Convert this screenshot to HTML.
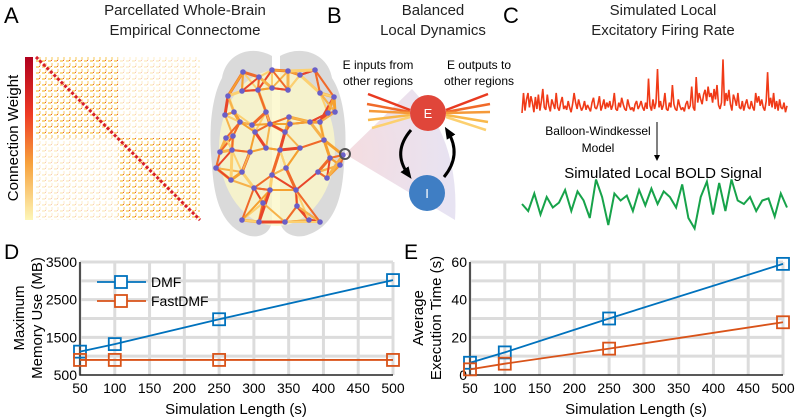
<!DOCTYPE html>
<html><head><meta charset="utf-8"><style>
html,body{margin:0;padding:0;background:#fff}
svg{display:block;font-family:"Liberation Sans",Arial,sans-serif}
</style></head><body>
<svg id="fig" width="800" height="419" viewBox="0 0 800 419" xmlns="http://www.w3.org/2000/svg">
<defs>
<linearGradient id="cb" x1="0" y1="0" x2="0" y2="1"><stop offset="0" stop-color="#b0001e"/><stop offset="0.35" stop-color="#ee3a24"/><stop offset="0.65" stop-color="#f7a13c"/><stop offset="1" stop-color="#fdf6b8"/></linearGradient>
<pattern id="mx" width="6" height="6" patternUnits="userSpaceOnUse"><rect width="6" height="6" fill="#fff"/><rect x="0" y="0" width="3" height="2" fill="#f9d77a"/><rect x="3" y="3" width="2" height="3" fill="#fbe0a0"/><rect x="3" y="0" width="1" height="1" fill="#e8452a"/></pattern>
<radialGradient id="cone" cx="0" cy="0.5" r="1"><stop offset="0" stop-color="#f3d6da"/><stop offset="1" stop-color="#e3def0"/></radialGradient>
<marker id="ah" markerUnits="userSpaceOnUse" markerWidth="12" markerHeight="12" refX="6" refY="6" orient="auto"><path d="M0,1 L12,6 L0,11z" fill="#000"/></marker>
<marker id="ahs" markerUnits="userSpaceOnUse" markerWidth="6" markerHeight="6" refX="3" refY="3" orient="auto"><path d="M0,0 L6,3 L0,6z" fill="#000"/></marker>
</defs>

<g>
<text x="4" y="23" font-size="22">A</text>
<text x="185" y="15" font-size="15" text-anchor="middle" fill="#222"><tspan x="185">Parcellated Whole-Brain</tspan><tspan x="185" dy="20">Empirical Connectome</tspan></text>
<rect x="25" y="57" width="8" height="163" fill="url(#cb)"/>
<text transform="translate(18,138) rotate(-90)" font-size="15" text-anchor="middle">Connection Weight</text>
<g id="matrix">
<rect x="36" y="57" width="164" height="163" fill="#fff"/>
<rect x="36" y="57" width="82" height="81" fill="url(#mx)" opacity="0.9"/>
<rect x="118" y="138" width="82" height="82" fill="url(#mx)" opacity="0.9"/>
<rect x="36" y="138" width="82" height="82" fill="url(#mx)" opacity="0.3"/>
<rect x="118" y="57" width="82" height="81" fill="url(#mx)" opacity="0.3"/>
<line x1="36" y1="57" x2="200" y2="220" stroke="#d8202a" stroke-width="3" stroke-dasharray="3 2"/>
</g>
<g id="brain">
<path d="M272,56 C250,44 226,54 222,78 C212,96 208,130 212,165 C214,200 222,228 250,236 C262,238 270,232 272,222 Z" fill="#dadada"/>
<path d="M280,56 C302,44 328,54 332,78 C344,96 348,130 344,165 C342,200 334,228 304,236 C292,238 282,232 280,222 Z" fill="#dadada"/>
<ellipse cx="277" cy="148" rx="58" ry="78" fill="#fbf8c8" opacity="0.8"/>
</g>
</g>

<g>
<text x="327" y="23" font-size="22">B</text>
<text x="433" y="15" font-size="15" text-anchor="middle" fill="#222"><tspan x="433">Balanced</tspan><tspan x="433" dy="20">Local Dynamics</tspan></text>
<text x="378" y="69" font-size="12" text-anchor="middle"><tspan x="378">E inputs from</tspan><tspan x="378" dy="16">other regions</tspan></text>
<text x="479" y="69" font-size="12" text-anchor="middle"><tspan x="479">E outputs to</tspan><tspan x="479" dy="16">other regions</tspan></text>
<path d="M345,154 L412,89 Q460,140 455,220 Z" fill="url(#cone)" opacity="0.85"/>
<circle cx="345" cy="154" r="5" fill="none" stroke="#555" stroke-width="2"/>
<g stroke-width="2.5" fill="none">
<line x1="368" y1="94" x2="410" y2="110" stroke="#e83a20"/>
<line x1="367" y1="104" x2="410" y2="112" stroke="#f06a2a"/>
<line x1="369" y1="111" x2="410" y2="113" stroke="#f59a3a"/>
<line x1="368" y1="120" x2="410" y2="115" stroke="#f8b84a"/>
<line x1="372" y1="128" x2="410" y2="117" stroke="#fcd070"/>
</g>
<g stroke-width="2.5" fill="none">
<line x1="446" y1="110" x2="488" y2="94" stroke="#e83a20"/>
<line x1="446" y1="112" x2="490" y2="104" stroke="#f06a2a"/>
<line x1="446" y1="113" x2="490" y2="112" stroke="#f59a3a"/>
<line x1="446" y1="115" x2="488" y2="122" stroke="#f8b84a"/>
<line x1="446" y1="117" x2="486" y2="130" stroke="#fcd070"/>
</g>
<circle cx="428" cy="113" r="18" fill="#e0463a"/>
<text x="428" y="118" font-size="13" fill="#fff" text-anchor="middle">E</text>
<circle cx="427" cy="193" r="18" fill="#3f7ec4"/>
<text x="427" y="198" font-size="13" fill="#fff" text-anchor="middle">I</text>
<path d="M411,130 Q392,152 408,174" fill="none" stroke="#000" stroke-width="3" marker-end="url(#ah)"/>
<path d="M444,177 Q462,155 448,132" fill="none" stroke="#000" stroke-width="3" marker-end="url(#ah)"/>
</g>

<g>
<text x="503" y="23" font-size="22">C</text>
<text x="663" y="15" font-size="15" text-anchor="middle" fill="#222"><tspan x="663">Simulated Local</tspan><tspan x="663" dy="20">Excitatory Firing Rate</tspan></text>
<polyline id="firing" fill="none" stroke="#f03a17" stroke-width="1.6" stroke-linejoin="bevel"/>
<text x="598" y="135" font-size="12" text-anchor="middle"><tspan x="598">Balloon-Windkessel</tspan><tspan x="598" dy="17">Model</tspan></text>
<line x1="657" y1="122" x2="657" y2="158" stroke="#000" stroke-width="1" marker-end="url(#ahs)"/>
<text x="663" y="178" font-size="15" text-anchor="middle">Simulated Local BOLD Signal</text>
<polyline id="bold" fill="none" stroke="#17a34a" stroke-width="2"/>
</g>

<g id="chartD">
<text x="4" y="259" font-size="21">D</text>
<text transform="translate(24,318) rotate(-90)" font-size="15" text-anchor="middle">Maximum</text>
<text transform="translate(42,318) rotate(-90)" font-size="15" text-anchor="middle">Memory Use (MB)</text>
<text x="236" y="414" font-size="15" text-anchor="middle">Simulation Length (s)</text>
</g>
<g id="chartE">
<text x="404" y="259" font-size="21">E</text>
<text transform="translate(423,318) rotate(-90)" font-size="15" text-anchor="middle">Average</text>
<text transform="translate(441,318) rotate(-90)" font-size="15" text-anchor="middle">Execution Time (s)</text>
<text x="636" y="414" font-size="15" text-anchor="middle">Simulation Length (s)</text>
</g>
</svg>
<script>
const simLengths=[50,100,250,500];
const memDMF=[1120,1320,1980,3020];
const memFast=[900,900,900,900];
const timeDMF=[6.5,12,30,59];
const timeFast=[3,6,14,28];
const xTicks=[50,100,150,200,250,300,350,400,450,500];
const memTicks=[500,1500,2500,3500];
const memGrid=[1000,1500,2000,2500,3000,3500];
const timeTicks=[0,20,40,60];
const timeGrid=[10,20,30,40,50,60];
const firingRate=[5,30,8,22,30,12,26,18,6,25,10,28,8,20,35,12,9,28,14,7,22,16,10,30,12,8,18,25,10,14,9,20,12,6,16,30,18,10,22,14,8,12,20,9,15,11,7,18,24,12,10,16,26,8,14,22,10,18,12,20,9,15,30,10,8,18,12,24,16,10,8,22,14,9,12,7,16,20,10,14,20,12,8,18,10,48,14,8,22,10,18,60,12,20,9,15,30,10,8,18,12,40,16,10,8,22,14,9,12,7,16,20,10,14,38,12,8,50,18,30,22,16,28,34,20,38,25,30,18,35,22,40,15,10,18,72,14,30,20,34,16,8,28,22,14,30,12,10,20,8,16,22,12,10,20,12,8,30,18,26,14,22,12,8,20,56,14,24,12,30,10,20,8,22,12,10,18,6,14];
const boldSignal=[40,30,55,25,50,35,42,60,30,58,45,20,75,50,10,55,45,52,30,60,38,62,40,58,50,35,68,20,5,50,72,25,70,30,75,45,40,50,30,45,48,22,55,35];
const NS='http://www.w3.org/2000/svg';
function mk(parent,tag,attrs){const e=document.createElementNS(NS,tag);for(const k in attrs)e.setAttribute(k,attrs[k]);parent.appendChild(e);return e;}

(function(){
 const f=document.getElementById('firing');
 const x0=522,x1=787,base=117,sc=0.8;
 f.setAttribute('points',firingRate.map((v,i)=>(x0+i*(x1-x0)/(firingRate.length-1)).toFixed(1)+','+(base-v*sc).toFixed(1)).join(' '));
 const b=document.getElementById('bold');
 const by=232,bs=0.7;
 b.setAttribute('points',boldSignal.map((v,i)=>(x0+i*(x1-x0)/(boldSignal.length-1)).toFixed(1)+','+(by-v*bs).toFixed(1)).join(' '));
})();

const brainNodes=[[243,72],[259,77],[272,70],[288,71],[300,75],[315,70],[228,96],[242,91],[258,90],[272,88],[288,90],[320,93],[334,97],[225,115],[234,112],[266,112],[289,117],[328,113],[335,112],[240,122],[252,125],[270,124],[290,124],[310,122],[320,122],[226,138],[233,136],[255,132],[285,132],[324,140],[220,152],[232,150],[250,152],[266,148],[280,150],[300,148],[330,158],[343,155],[216,168],[242,172],[272,175],[286,168],[318,172],[340,165],[231,180],[254,188],[270,190],[296,190],[327,178],[263,203],[297,206],[242,220],[259,222],[285,222],[309,220],[320,222]];
(function(){
 const g=document.getElementById('brain');
 const cols=['#f5a030','#e8452a','#f7b24a','#fcd070','#f06a2a'];
 brainNodes.forEach((p,i)=>{
  const d=brainNodes.map((q,j)=>[Math.hypot(p[0]-q[0],p[1]-q[1]),j]).sort((a,b)=>a[0]-b[0]);
  for(let k=1;k<=4;k++){const q=brainNodes[d[k][1]];
   const l=mk(g,'line',{x1:p[0],y1:p[1],x2:q[0],y2:q[1],stroke:cols[(i+k)%5],'stroke-width':(i+k)%4===0?3:2});
   
   }
 });
 brainNodes.forEach(p=>{const c=mk(g,'circle',{cx:p[0],cy:p[1],r:2.8,fill:'#6a5fc8'});
  
  });
})();

function lineChart(gid,px0,px1,py0,py1,ymin,ymax,yTicks,yGrid,s1,s2,legend){
 const g=document.getElementById(gid);
 const X=v=>px0+(v-50)/(500-50)*(px1-px0);
 const Y=v=>py1-(v-ymin)/(ymax-ymin)*(py1-py0);
 xTicks.forEach(t=>{const l=mk(g,'line',{x1:X(t),y1:py0,x2:X(t),y2:py1,stroke:'#dcdcdc','stroke-width':3});
  
  
  const tx=mk(g,'text',{x:X(t),y:py1+18,'font-size':14,'text-anchor':'middle'});tx.textContent=t;
  
  });
 yGrid.forEach(t=>{const l=mk(g,'line',{x1:px0,y1:Y(t),x2:px1,y2:Y(t),stroke:'#dcdcdc','stroke-width':3});
  
  });
 yTicks.forEach(t=>{const tx=mk(g,'text',{x:px0-3,y:Y(t)+5,'font-size':14,'text-anchor':'end'});tx.textContent=t;
  
  });
 const ax=mk(g,'path',{d:`M${px0},${py0} V${py1} H${px1}`,fill:'none',stroke:'#222','stroke-width':1.5});
 
 
 [[s1,'#0072BD','dmf'],[s2,'#D95319','fastdmf']].forEach(([s,c,n])=>{
  const pl=mk(g,'polyline',{points:simLengths.map((x,i)=>X(x)+','+Y(s[i])).join(' '),fill:'none',stroke:c,'stroke-width':1.8});
  
  
  simLengths.forEach((x,i)=>{const r=mk(g,'rect',{x:X(x)-6,y:Y(s[i])-6,width:12,height:12,fill:'none',stroke:c,'stroke-width':1.8});
   
   });
 });
 if(legend){
  [['DMF','#0072BD',282],['FastDMF','#D95319',301]].forEach(([t,c,y])=>{
   const l=mk(g,'line',{x1:97,y1:y,x2:146,y2:y,stroke:c,'stroke-width':1.8});
   
   
   const r=mk(g,'rect',{x:115,y:y-6,width:12,height:12,fill:'#fff',stroke:c,'stroke-width':1.8});
   
   
   const tx=mk(g,'text',{x:151,y:y+5,'font-size':14});tx.textContent=t;
   
   
  });
 }
}
lineChart('chartD',80,393,262,375,500,3500,memTicks,memGrid,memDMF,memFast,true);
lineChart('chartE',470,783,262,375,0,60,timeTicks,timeGrid,timeDMF,timeFast,false);
</script>
</body></html>
